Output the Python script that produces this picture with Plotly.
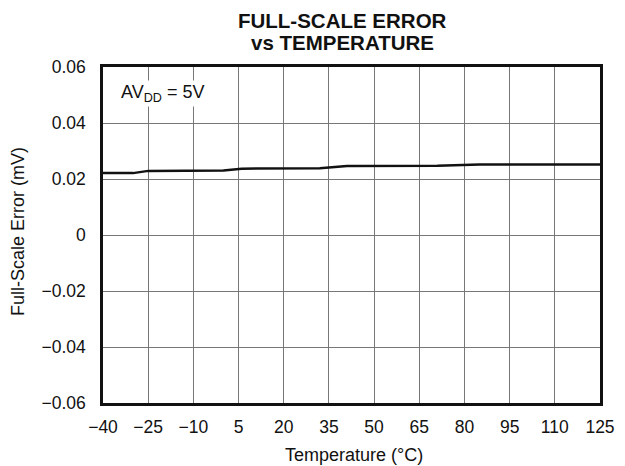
import plotly.graph_objects as go

temperature = [-40, -30, -25, 0, 6, 32, 41, 71, 85, 125]
fs_error = [0.0221, 0.0221, 0.0229, 0.0230, 0.0237, 0.0238, 0.0246, 0.0247, 0.0252, 0.0252]

x_ticks = [-40, -25, -10, 5, 20, 35, 50, 65, 80, 95, 110, 125]
x_tick_labels = ["\u221240", "\u221225", "\u221210", "5", "20", "35", "50", "65", "80", "95", "110", "125"]
y_ticks = [-0.06, -0.04, -0.02, 0, 0.02, 0.04, 0.06]
y_tick_labels = ["\u22120.06", "\u22120.04", "\u22120.02", "0", "0.02", "0.04", "0.06"]

FONT = "Liberation Sans, Arial, sans-serif"
INK = "#111111"

fig = go.Figure()
fig.add_trace(go.Scatter(x=temperature, y=fs_error, mode="lines",
                         line=dict(color=INK, width=2.5), showlegend=False))

axis_common = dict(showgrid=True, gridcolor="#777777", gridwidth=1, zeroline=False,
                   showline=True, linecolor=INK, linewidth=2.5, mirror=True,
                   ticks="", automargin=False, tickfont=dict(size=17.5, family=FONT, color=INK))

# The page body adds an 8px offset, so the figure is 8px smaller on each axis
fig.update_layout(
    width=617, height=458,
    margin=dict(l=95, r=25, t=59, b=63),
    paper_bgcolor="white", plot_bgcolor="white",
    font=dict(family=FONT, size=17, color=INK),
    xaxis=dict(range=[-40, 125], tickmode="array", tickvals=x_ticks, ticktext=x_tick_labels,
               ticklabelstandoff=6, **axis_common),
    yaxis=dict(range=[-0.06, 0.06], tickmode="array", tickvals=y_ticks, ticktext=y_tick_labels,
               ticklabelstandoff=11, **axis_common),
)

# Title (two lines)
fig.add_annotation(x=0.481, y=1 + 46.5 / 336, xref="paper", yref="paper", xanchor="center", yanchor="middle",
                   text="<b>FULL-SCALE ERROR</b>", showarrow=False,
                   font=dict(size=20.5, family=FONT, color=INK))
fig.add_annotation(x=0.481, y=1 + 24.5 / 336, xref="paper", yref="paper", xanchor="center", yanchor="middle",
                   text="<b>vs TEMPERATURE</b>", showarrow=False,
                   font=dict(size=20.5, family=FONT, color=INK))

# Axis titles
fig.add_annotation(x=0.505, y=-52 / 336, xref="paper", yref="paper", xanchor="center", yanchor="middle",
                   text="Temperature (\u00b0C)", showarrow=False,
                   font=dict(size=18, family=FONT, color=INK))
fig.add_annotation(x=-85 / 497, y=0.509, xref="paper", yref="paper", xanchor="center", yanchor="middle",
                   text="Full-Scale Error (mV)", showarrow=False, textangle=-90,
                   font=dict(size=18, family=FONT, color=INK))

# In-plot label
fig.add_annotation(x=0.032, y=0.962, xref="paper", yref="paper", xanchor="left", yanchor="top",
                   text="AV<sub>DD</sub> = 5V", showarrow=False, bgcolor="white",
                   font=dict(size=18, family=FONT, color=INK))

fig.write_html("out.html")
